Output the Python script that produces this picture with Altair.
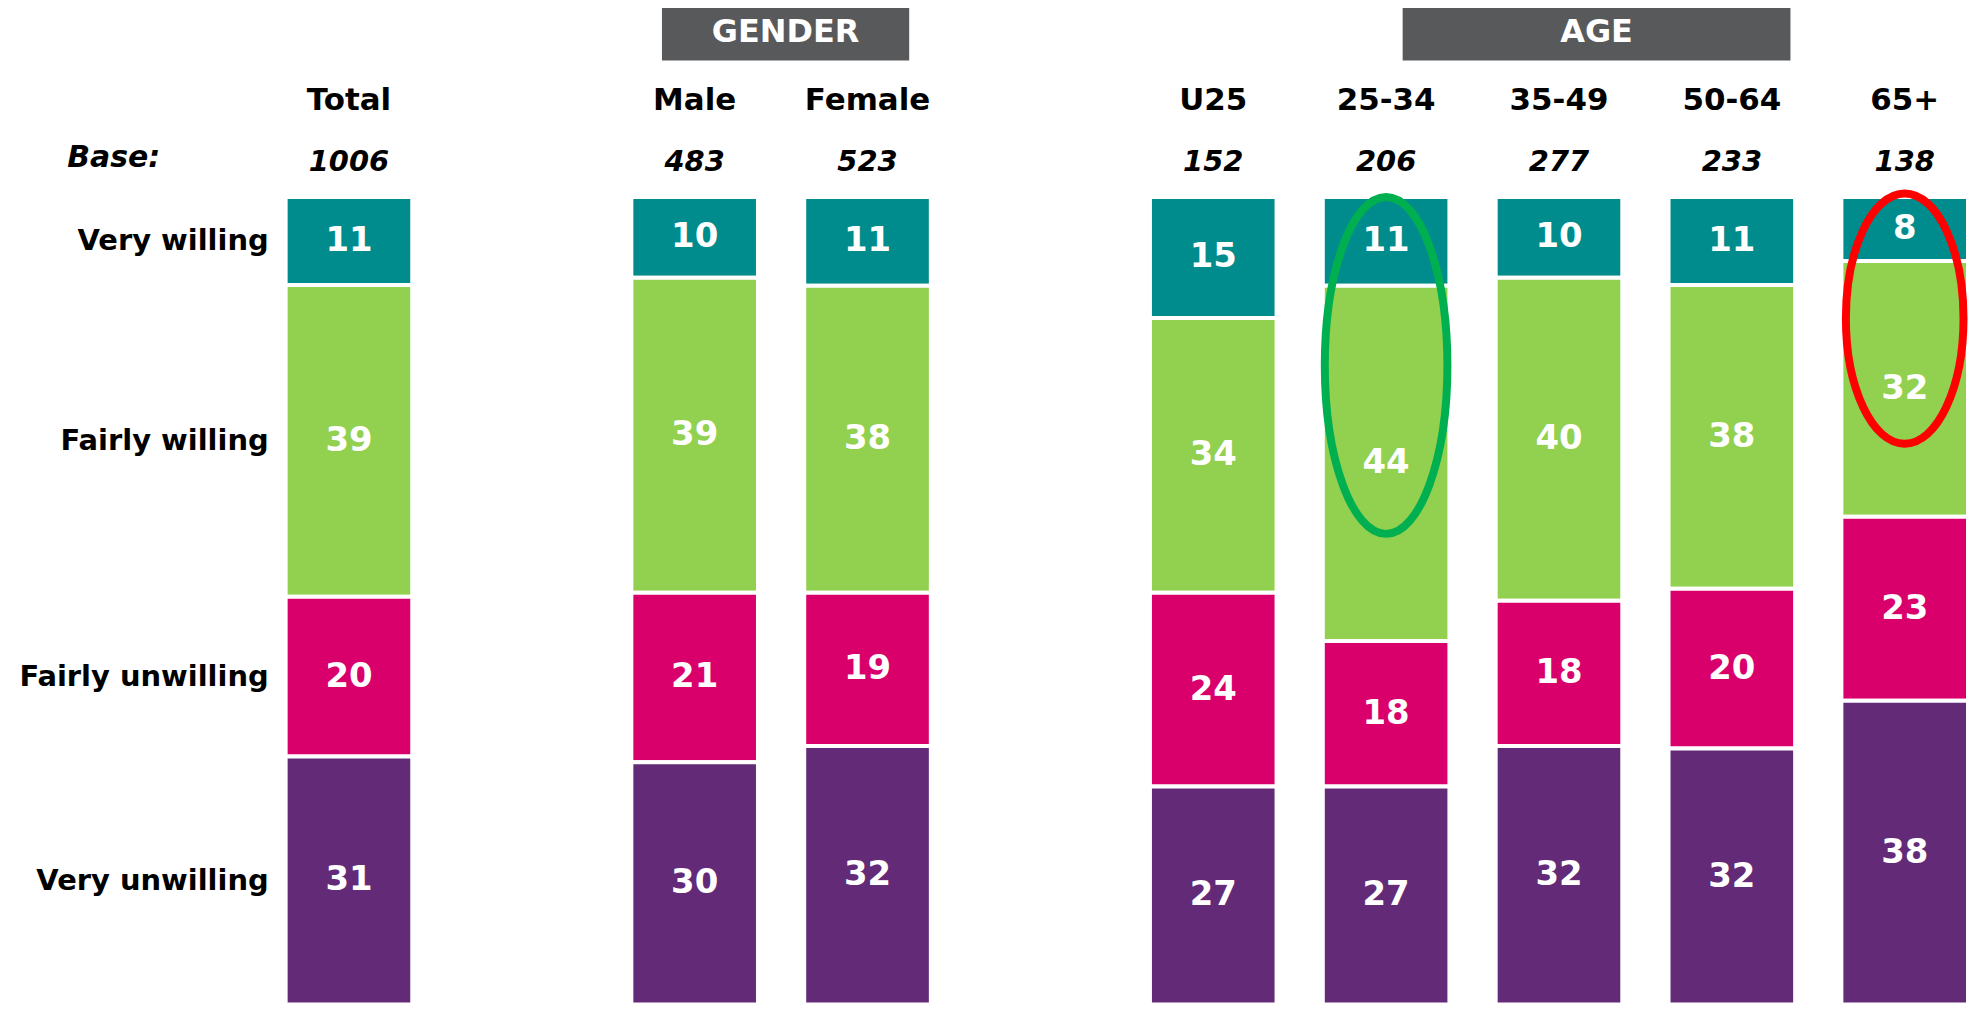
import altair as alt
import pandas as pd

# ---------------- data ----------------
columns = ["Total", "Male", "Female", "U25", "25-34", "35-49", "50-64", "65+"]
bases = [1006, 483, 523, 152, 206, 277, 233, 138]
responses = ["Very willing", "Fairly willing", "Fairly unwilling", "Very unwilling"]
very_willing = [11, 10, 11, 15, 11, 10, 11, 8]
fairly_willing = [39, 39, 38, 34, 44, 40, 38, 32]
fairly_unwilling = [20, 21, 19, 24, 18, 18, 20, 23]
very_unwilling = [31, 30, 32, 27, 27, 32, 32, 38]
colors = ["#008C8C", "#92D050", "#D9006C", "#622A77"]
slots = ["Total", "gap1", "Male", "Female", "gap2", "U25", "25-34", "35-49", "50-64", "65+"]
highlight_green = ["25-34"]
highlight_red = ["65+"]

series = [very_willing, fairly_willing, fairly_unwilling, very_unwilling]
rows = []
for ri, (resp, vals) in enumerate(zip(responses, series)):
    for c, v in zip(columns, vals):
        rows.append({"column": c, "response": resp, "idx": ri, "value": v})
df = pd.DataFrame(rows)
base_df = pd.DataFrame({"column": columns, "base": bases})

# ---------------- layout ----------------
W = 1687.6
H = 810
TOP = 188
FONT = "DejaVu Sans"

xscale = alt.Scale(domain=slots, paddingInner=0.2676, paddingOuter=0)
X = alt.X("column:N", scale=xscale, axis=None)
yscale = alt.Scale(domain=[0, 1], reverse=True, nice=False, zero=True)

bars = alt.Chart(df).mark_bar(stroke="white", strokeWidth=4).encode(
    x=X,
    y=alt.Y("value:Q", stack="normalize", scale=yscale, axis=None),
    color=alt.Color("response:N", scale=alt.Scale(domain=responses, range=colors), legend=None),
    order=alt.Order("idx:Q", sort="ascending"),
)

mids = alt.Chart(df).transform_window(
    cum="sum(value)", groupby=["column"], sort=[alt.SortField("idx")], frame=[None, 0]
).transform_joinaggregate(
    tot="sum(value)", groupby=["column"]
).transform_calculate(
    mid="(datum.cum - datum.value / 2) / datum.tot"
)

value_labels = mids.mark_text(
    font=FONT, fontSize=34, fontWeight="bold", color="white", baseline="middle"
).encode(
    x=X,
    y=alt.Y("mid:Q", scale=yscale, axis=None),
    text="value:Q",
)

row_labels = mids.transform_filter(alt.datum.column == "Total").mark_text(
    font=FONT, fontSize=29, fontWeight="bold", color="black", align="right", baseline="middle"
).encode(
    x=alt.value(-17),
    y=alt.Y("mid:Q", scale=yscale, axis=None),
    text="response:N",
)

headers = alt.Chart(base_df).mark_text(
    font=FONT, fontSize=31, fontWeight="bold", color="black", baseline="middle"
).encode(x=X, y=alt.value(-96), text="column:N")

base_labels = alt.Chart(base_df).mark_text(
    font=FONT, fontSize=29, fontWeight="bold", fontStyle="italic", color="black", baseline="middle"
).encode(x=X, y=alt.value(-35), text="base:Q")

base_title = alt.Chart(pd.DataFrame({"t": ["Base:"]})).mark_text(
    font=FONT, fontSize=30, fontWeight="bold", fontStyle="italic", color="black",
    align="left", baseline="middle"
).encode(x=alt.value(-219), y=alt.value(-39), text="t:N")

# group header boxes
gender_box = alt.Chart(pd.DataFrame({"g": ["GENDER"]})).mark_rect(color="#58595B").encode(
    x=alt.value(377.5), x2=alt.value(625.5), y=alt.value(-193), y2=alt.value(-137)
)
gender_txt = alt.Chart(pd.DataFrame({"g": ["GENDER"]})).mark_text(
    font=FONT, fontSize=32, fontWeight="bold", color="white", baseline="middle"
).encode(x=alt.value(501.5), y=alt.value(-165), text="g:N")
age_box = alt.Chart(pd.DataFrame({"g": ["AGE"]})).mark_rect(color="#58595B").encode(
    x=alt.value(1120.5), x2=alt.value(1509.5), y=alt.value(-193), y2=alt.value(-137)
)
age_txt = alt.Chart(pd.DataFrame({"g": ["AGE"]})).mark_text(
    font=FONT, fontSize=32, fontWeight="bold", color="white", baseline="middle"
).encode(x=alt.value(1315), y=alt.value(-165), text="g:N")

# highlight ellipses
g_h = 338 * H / 810
g_rx = 123 / g_h
green_path = f"M0,-1 A{g_rx:.4f},1 0 1,1 0,1 A{g_rx:.4f},1 0 1,1 0,-1 Z"
r_h = 251 * H / 810
r_rx = 118 / r_h
red_path = f"M0,-1 A{r_rx:.4f},1 0 1,1 0,1 A{r_rx:.4f},1 0 1,1 0,-1 Z"

green_ell = alt.Chart(pd.DataFrame({"column": highlight_green})).mark_point(
    shape=green_path, filled=False, color="#00B050", strokeWidth=8, opacity=1, size=g_h ** 2
).encode(x=X, y=alt.value(0.2086 * H))
red_ell = alt.Chart(pd.DataFrame({"column": highlight_red})).mark_point(
    shape=red_path, filled=False, color="#FF0000", strokeWidth=8, opacity=1, size=r_h ** 2
).encode(x=X, y=alt.value(0.1506 * H))

chart = alt.layer(
    bars, value_labels, row_labels, headers, base_labels, base_title,
    gender_box, gender_txt, age_box, age_txt, green_ell, red_ell,
).properties(
    width=W, height=H,
    autosize=alt.AutoSizeParams(type="none"),
    padding={"left": 278.5, "top": TOP, "right": 0, "bottom": 0},
    background="white",
).configure_view(stroke=None)

chart.save("out.html", embed_options={"renderer": "svg", "actions": False})
